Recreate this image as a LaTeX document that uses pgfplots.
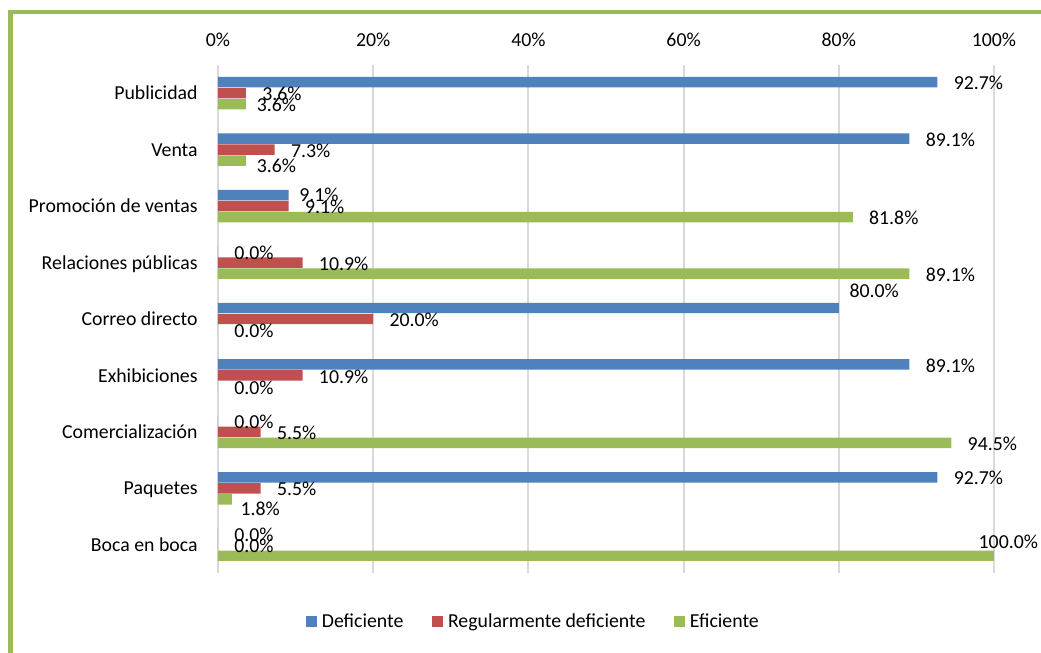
\documentclass[border=0pt]{standalone}
\usepackage{pgfplots}
\pgfplotsset{compat=1.18}
\usepackage{pgfplotstable}
\usepackage{fontspec}
\setmainfont{Carlito}
\definecolor{cblue}{HTML}{4F81BD}
\definecolor{cred}{HTML}{C0504D}
\definecolor{cgreen}{HTML}{9BBB59}
\definecolor{cgrid}{HTML}{D9D9D9}

% y: 8 = Publicidad ... 0 = Boca en boca; xo/yo = label offsets (pt)
\pgfplotstableread{
y x xo yo
8 92.7 8 -0.5
7 89.1 8 -0.5
6 9.1 5.15 0.35
5 0.0 8 -0.5
4 80.0 5.2 8.5
3 89.1 8 -0.5
2 0.0 8 -0.5
1 92.7 8 -0.5
0 0.0 8 -0.5
}\datadef
\pgfplotstableread{
y x xo yo
8 3.6 8 -0.5
7 7.3 8 -0.5
6 9.1 8 -0.5
5 10.9 8 -0.5
4 20.0 8 -0.5
3 10.9 8 -0.5
2 5.5 8 -0.5
1 5.5 8 -0.5
0 0.0 8 -0.5
}\datareg
\pgfplotstableread{
y x xo yo
8 3.6 5.25 -0.5
7 3.6 5.25 -2.65
6 81.8 8 -0.5
5 89.1 8 -0.5
4 0.0 8 -0.5
3 0.0 8 -0.5
2 94.5 8 -0.5
1 1.8 4.15 -4.5
0 100.0 -7.85 7.0
}\dataefi

\begin{document}
\fontsize{9.9}{12}\selectfont
\begin{tikzpicture}
\path[use as bounding box] (0,0) rectangle (520.5pt,-326.5pt);
\draw[cgreen, line width=2.2pt] (5.25pt,-327pt) -- (5.25pt,-6pt) -- (521pt,-6pt);
\begin{axis}[
  at={(109pt,-32.5pt)}, anchor=north west,
  scale only axis, width=388pt, height=254pt,
  xbar, bar width=0.185,
  xmin=0, xmax=100, ymin=-0.5, ymax=8.5,
  axis line style={draw=none},
  tick style={draw=none}, major tick length=0pt,
  xmajorgrids, grid style={cgrid, line width=1pt},
  xtick={0,20,40,60,80,100},
  xticklabels={0\%,20\%,40\%,60\%,80\%,100\%},
  xticklabel pos=upper,
  xticklabel style={anchor=center, inner sep=0pt, yshift=11.6pt},
  ytick={0,1,2,3,4,5,6,7,8},
  yticklabels={Boca en boca,Paquetes,Comercialización,Exhibiciones,Correo directo,Relaciones públicas,Promoción de ventas,Venta,Publicidad},
  yticklabel style={anchor=east, inner sep=0pt, xshift=-10pt, yshift=-0.9pt},
  typeset ticklabels with strut,
  /pgf/number format/assume math mode=true,
  nodes near coords={\pgfmathprintnumber[fixed,fixed zerofill,precision=1]{\pgfplotspointmeta}\%},
  point meta=x,
  visualization depends on={\thisrow{xo} \as \xo},
  visualization depends on={\thisrow{yo} \as \yo},
  every node near coord/.append style={anchor=west, inner sep=0pt, xshift=\xo pt, yshift=\yo pt, text=black},
  legend image code/.code={\fill[#1] (0pt,-2.6pt) rectangle (5.2pt,2.6pt);},
  legend columns=-1,
  legend style={draw=none, fill=none, at={(0.4053,-0.0959)}, anchor=center,
    nodes={inner sep=0pt},
    /tikz/every odd column/.append style={column sep=2.6pt},
    /tikz/every even column/.append style={column sep=14.5pt}},
]
\addplot[fill=cblue, draw=none, bar shift=0.195] table[x=x,y=y]{\datadef};
\addplot[fill=cred, draw=none, bar shift=0] table[x=x,y=y]{\datareg};
\addplot[fill=cgreen, draw=none, bar shift=-0.195] table[x=x,y=y]{\dataefi};
\legend{Deficiente,Regularmente deficiente,Eficiente}
\end{axis}
\end{tikzpicture}
\end{document}
